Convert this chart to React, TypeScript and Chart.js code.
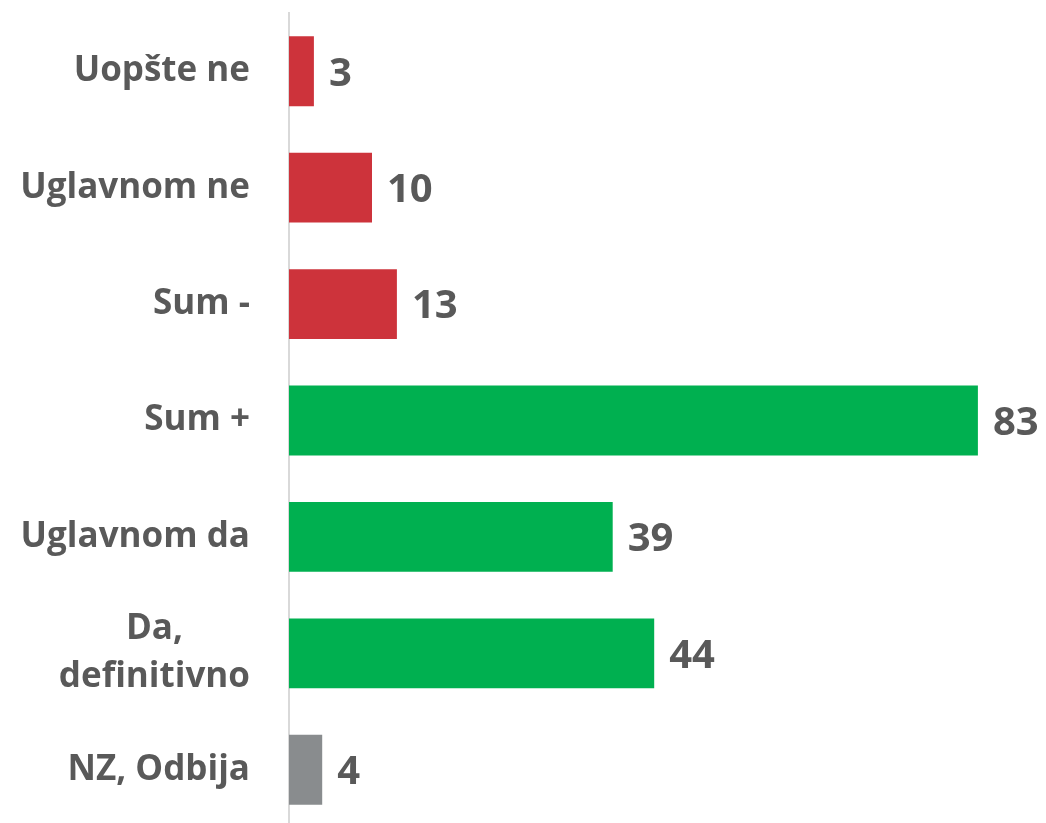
import React, { useEffect, useRef } from "react";
import { Chart, registerables } from "chart.js";

Chart.register(...registerables);

const categories: string[][] = [
  ["Uopšte ne"],
  ["Uglavnom ne"],
  ["Sum -"],
  ["Sum +"],
  ["Uglavnom da"],
  ["Da,", "definitivno"],
  ["NZ, Odbija"],
];
const values: number[] = [3, 10, 13, 83, 39, 44, 4];
const barColors: string[] = [
  "#CD333B",
  "#CD333B",
  "#CD333B",
  "#00B050",
  "#00B050",
  "#00B050",
  "#898C8E",
];

const TEXT = "#595959";
const FONT = "'Open Sans', 'Noto Sans', sans-serif";

const labelPlugin = {
  id: "customLabels",
  afterDraw(chart: any) {
    const ctx = chart.ctx;
    const yScale = chart.scales.y;
    const xScale = chart.scales.x;
    ctx.save();
    ctx.fillStyle = TEXT;
    // category labels
    ctx.font = `bold 35px ${FONT}`;
    const lineH = 48;
    const rightEdge = 250;
    categories.forEach((lines, i) => {
      const cy = yScale.getPixelForValue(i);
      const widths = lines.map((l) => ctx.measureText(l).width);
      const maxW = Math.max(...widths);
      const centerX = rightEdge - maxW / 2;
      ctx.textAlign = "center";
      ctx.textBaseline = "middle";
      const startY = cy - ((lines.length - 1) * lineH) / 2;
      lines.forEach((l, j) => {
        ctx.fillText(l, centerX, startY + j * lineH);
      });
    });
    // value labels
    ctx.font = `bold 40px ${FONT}`;
    ctx.textAlign = "left";
    ctx.textBaseline = "middle";
    values.forEach((v, i) => {
      const x = xScale.getPixelForValue(v) + 15;
      const y = yScale.getPixelForValue(i) + 3;
      ctx.fillText(String(v), x, y);
    });
    ctx.restore();
  },
};

export default function App() {
  const ref = useRef<HTMLCanvasElement | null>(null);
  useEffect(() => {
    if (!ref.current) return;
    const chart = new Chart(ref.current, {
      type: "bar",
      data: {
        labels: categories.map((c) => c.join(" ")),
        datasets: [
          {
            data: values,
            backgroundColor: barColors,
            borderWidth: 0,
            categoryPercentage: 0.6,
            barPercentage: 1,
          },
        ],
      },
      options: {
        indexAxis: "y",
        animation: false,
        responsive: false,
        maintainAspectRatio: false,
        layout: { padding: { top: 13, right: 10, bottom: 0, left: 0 } },
        plugins: {
          legend: { display: false },
          tooltip: { enabled: false },
        },
        scales: {
          x: {
            min: 0,
            max: 90,
            display: false,
            grid: { display: false },
          },
          y: {
            afterFit: (scale: any) => {
              scale.width = 289;
            },
            ticks: { display: false },
            grid: { display: false, drawTicks: false },
            border: { display: true, color: "#D9D9D9", width: 2 },
          },
        },
      },
      plugins: [labelPlugin],
    });
    return () => chart.destroy();
  }, []);
  return (
    <div style={{ position: "fixed", left: 0, top: 0, width: 1046, height: 823, background: "#fff", overflow: "hidden" }}>
      <canvas ref={ref} width={1046} height={828} style={{ display: "block" }} />
    </div>
  );
}
